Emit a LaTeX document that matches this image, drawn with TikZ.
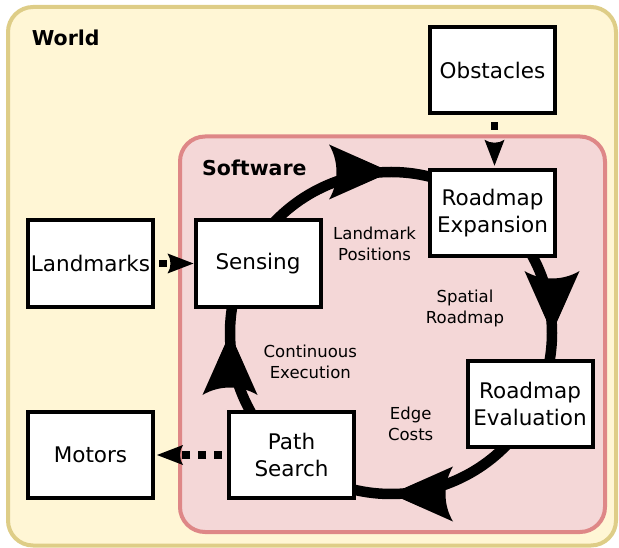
\documentclass[tikz,border=0pt]{standalone}
\usepackage{fontspec}
\setmainfont{DejaVu Sans}
\definecolor{worldfill}{HTML}{FFF6D5}
\definecolor{worldline}{HTML}{DECD87}
\definecolor{softfill}{HTML}{F4D7D7}
\definecolor{softline}{HTML}{DE8787}
\begin{document}
\begin{tikzpicture}[x=1pt,y=1pt,
  box/.style={draw=black, fill=white, line width=4pt, minimum width=125pt, minimum height=86.5pt, inner sep=0pt, align=center, font=\fontsize{21.5}{27}\selectfont},
  lbl/.style={align=center, inner sep=0pt, font=\fontsize{16.5}{21}\selectfont},
  ttl/.style={anchor=base west, inner sep=0pt, font=\fontsize{20.5}{24}\selectfont\bfseries},
  cyc/.style={line width=10.5pt},
  dotline/.style={line width=7.5pt, dash pattern=on 8pt off 8pt},
  bighead/.pic={\fill (0,0) -- (-62,27.5) .. controls (-52,11) and (-52,-11) .. (-62,-27.5) -- cycle;},
  smallhead/.pic={\fill (0,0) -- (-26,10) .. controls (-22,4) and (-22,-4) .. (-26,-10) -- cycle;}
]
\useasboundingbox (0,0) rectangle (619,-548);
% containers
\draw[fill=worldfill, draw=worldline, line width=4pt, rounded corners=25pt] (8,-7) rectangle (616,-545.5);
\draw[fill=softfill, draw=softline, line width=4pt, rounded corners=25pt] (180,-136.5) rectangle (605,-532);
\node[ttl] (world) at (31.6,-45.5) {World};
\node[ttl] (soft) at (202,-175.5) {Software};
% cycle connectors
\coordinate (cc) at (391,-333);
\draw[cyc] (cc) ++(160:161pt) arc[start angle=160, end angle=60, radius=161pt];
\draw[cyc] (cc) ++(60:161pt) arc[start angle=60, end angle=-40, radius=161pt];
\draw[cyc] (cc) ++(-40:161pt) arc[start angle=-40, end angle=-140, radius=161pt];
\draw[cyc] (cc) ++(-140:161pt) arc[start angle=-140, end angle=-200, radius=161pt];
\path (cc) ++(90:161pt) pic {bighead};
\path (cc) ++(0:161pt) pic[rotate=-90] {bighead};
\path (cc) ++(-90:161pt) pic[rotate=180] {bighead};
\path (cc) ++(180:161pt) pic[rotate=90] {bighead};
% boxes
\node[box] (obst) at (492.5,-70) {Obstacles};
\node[box] (exp) at (492.5,-213) {Roadmap\\Expansion};
\node[box] (sense) at (258,-263.5) {Sensing};
\node[box] (land) at (90.5,-263.5) {Landmarks};
\node[box] (mot) at (90.5,-455) {Motors};
\node[box] (psearch) at (291.5,-455) {Path\\Search};
\node[box] (eval) at (530,-404) {Roadmap\\Evaluation};
% labels
\node[lbl] (lpos) at (374.6,-243.5) {Landmark\\Positions};
\node[lbl] (spat) at (465,-308.5) {Spatial\\Roadmap};
\node[lbl] (cont) at (310.3,-361.5) {Continuous\\Execution};
\node[lbl] (edge) at (410.7,-424) {Edge\\Costs};
% dotted connectors
\draw[dotline] ([xshift=4pt]land.east) -- ([xshift=-24pt]sense.west);
\pic at (sense.west) {smallhead};
\draw[dotline] ([xshift=-5pt]psearch.west) -- ([xshift=26pt]mot.east);
\pic[rotate=180] at ([xshift=2pt]mot.east) {smallhead};
\draw[dotline] ([xshift=2pt,yshift=-7pt]obst.south) -- ([xshift=2pt,yshift=30pt]exp.north);
\pic[rotate=-90] at ([xshift=2pt,yshift=2pt]exp.north) {smallhead};
\end{tikzpicture}
\end{document}
